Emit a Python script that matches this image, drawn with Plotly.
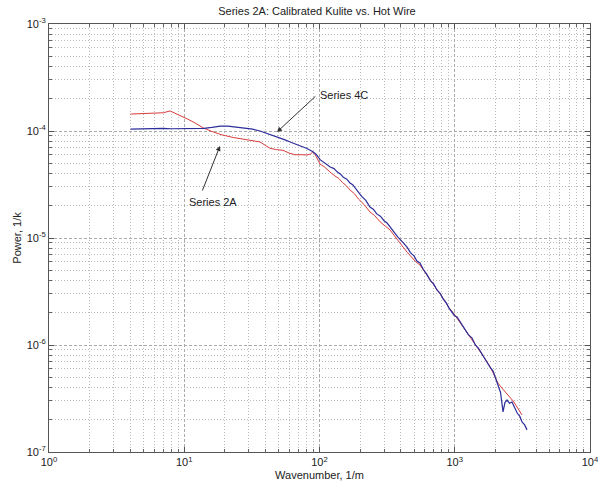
import plotly.graph_objects as go

# Series 2A (red)
x_2a = [4.0, 5, 6, 7, 7.85, 9, 10.5, 12, 13.8, 16, 19, 23, 28, 32, 36.3, 40, 43, 48, 53.7, 60,
        66, 74, 81, 86, 89.5, 93, 101, 108, 115, 122, 130, 139, 148, 158, 168, 181, 195, 214,
        236, 256, 280, 305, 332, 350, 370, 392, 416, 447, 480, 515, 553, 600, 650, 710, 778,
        840, 900, 970, 1040, 1120, 1200, 1270, 1343, 1440, 1550, 1680, 1823, 1950, 2089, 2200,
        2300, 2430, 2563, 2700, 2850, 3000, 3142]
y_2a = [1.44e-4, 1.45e-4, 1.46e-4, 1.48e-4, 1.54e-4, 1.43e-4, 1.30e-4, 1.19e-4, 1.07e-4, 9.9e-5,
        9.2e-5, 8.7e-5, 8.3e-5, 8.1e-5, 7.9e-5, 7.3e-5, 6.9e-5, 6.7e-5, 6.6e-5, 6.2e-5,
        6.0e-5, 6.0e-5, 5.97e-5, 6.1e-5, 6.4e-5, 6.0e-5, 4.9e-5, 4.65e-5, 4.3e-5, 4.05e-5,
        3.8e-5, 3.6e-5, 3.3e-5, 3.08e-5, 2.81e-5, 2.6e-5, 2.3e-5, 2.05e-5, 1.75e-5, 1.62e-5,
        1.42e-5, 1.3e-5, 1.19e-5, 1.09e-5, 1.0e-5, 9.2e-6, 8.2e-6, 7.3e-6, 6.6e-6, 6.0e-6,
        5.6e-6, 4.8e-6, 4.2e-6, 3.55e-6, 3.0e-6, 2.62e-6, 2.25e-6, 2.02e-6, 1.78e-6, 1.55e-6,
        1.38e-6, 1.22e-6, 1.13e-6, 9.9e-7, 8.6e-7, 7.4e-7, 6.3e-7, 5.3e-7, 4.4e-7, 4.05e-7,
        3.8e-7, 3.5e-7, 3.27e-7, 3.0e-7, 2.7e-7, 2.45e-7, 2.22e-7]

# Series 4C (blue)
x_4c = [4.0, 5, 6, 7, 8, 10, 12, 14, 16, 18.5, 21, 24, 28, 32, 36.3, 42, 48.5, 55, 62, 70, 80,
        89.5, 95, 101, 110, 120, 128, 135, 143, 150, 159, 168, 176, 185, 195, 205, 220, 236,
        250, 265, 282, 300, 316, 332, 355, 380, 410, 444, 470, 500, 525, 553, 585, 620, 660,
        700, 740, 778, 820, 870, 910, 950, 995, 1040, 1110, 1180, 1260, 1343, 1420, 1500, 1600,
        1700, 1823, 1920, 2000, 2089, 2180, 2275, 2350, 2434, 2540, 2650, 2780, 2900, 3030,
        3150, 3280, 3420]
y_4c = [1.04e-4, 1.05e-4, 1.05e-4, 1.06e-4, 1.05e-4, 1.05e-4, 1.05e-4, 1.06e-4, 1.08e-4,
        1.11e-4, 1.11e-4, 1.09e-4, 1.06e-4, 1.04e-4, 1.0e-4, 9.4e-5, 8.8e-5, 8.3e-5, 7.8e-5,
        7.4e-5, 6.9e-5, 6.4e-5, 6.0e-5, 5.4e-5, 4.95e-5, 4.6e-5, 4.45e-5, 4.15e-5, 3.95e-5,
        3.7e-5, 3.55e-5, 3.27e-5, 3.15e-5, 2.9e-5, 2.7e-5, 2.45e-5, 2.25e-5, 1.95e-5, 1.86e-5,
        1.68e-5, 1.6e-5, 1.45e-5, 1.38e-5, 1.27e-5, 1.12e-5, 1.02e-5, 9.2e-6, 8.2e-6, 7.3e-6,
        6.8e-6, 6.1e-6, 5.84e-6, 5.1e-6, 4.6e-6, 4.0e-6, 3.7e-6, 3.25e-6, 3.06e-6, 2.7e-6,
        2.45e-6, 2.2e-6, 2.05e-6, 1.88e-6, 1.83e-6, 1.6e-6, 1.45e-6, 1.25e-6, 1.16e-6, 1.0e-6,
        9.3e-7, 8.1e-7, 7.3e-7, 6.2e-7, 5.7e-7, 4.9e-7, 4.2e-7, 3.6e-7, 2.37e-7, 2.9e-7,
        3.06e-7, 2.85e-7, 2.93e-7, 2.6e-7, 2.3e-7, 2.15e-7, 1.9e-7, 1.8e-7, 1.61e-7]

x_tickvals = [1, 10, 100, 1000, 10000]
x_ticktext = ["10<sup>0</sup>", "10<sup>1</sup>", "10<sup>2</sup>", "10<sup>3</sup>", "10<sup>4</sup>"]
y_tickvals = [1e-7, 1e-6, 1e-5, 1e-4, 1e-3]
y_ticktext = ["10<sup>-7</sup>", "10<sup>-6</sup>", "10<sup>-5</sup>", "10<sup>-4</sup>", "10<sup>-3</sup>"]

x_minor = [m * 10 ** d for d in range(0, 4) for m in range(2, 10)]
y_minor = [m * 10.0 ** d for d in range(-7, -3) for m in range(2, 10)]

FONT = "Liberation Sans, Arial, sans-serif"

fig = go.Figure()
fig.add_trace(go.Scatter(x=x_2a, y=y_2a, mode="lines", line=dict(color="rgb(215,60,60)", width=1),
                         showlegend=False))
fig.add_trace(go.Scatter(x=x_4c, y=y_4c, mode="lines", line=dict(color="rgb(45,45,155)", width=1.2),
                         showlegend=False))

axis_common = dict(
    type="log", showline=True, linecolor="#555", linewidth=1, mirror="allticks",
    ticks="inside", ticklen=5, tickcolor="#555",
    showgrid=True, gridcolor="#aaa", griddash="3px,2px", gridwidth=1,
    zeroline=False, tickfont=dict(family=FONT, size=11, color="#222"),
    ticklabeloverflow="allow", automargin=False,
)
minor_common = dict(tickmode="array", ticks="inside", ticklen=3, tickcolor="#666",
                    showgrid=True, gridcolor="#bbb", griddash="1px,2px", gridwidth=1)

fig.update_xaxes(**axis_common, range=[0, 4], tickmode="array", tickvals=x_tickvals,
                 ticktext=x_ticktext, minor=dict(tickvals=x_minor, **minor_common),
                 title=dict(text="Wavenumber, 1/m", font=dict(family=FONT, size=11, color="#222"),
                            standoff=4))
fig.update_yaxes(**axis_common, range=[-7, -3], tickmode="array", tickvals=y_tickvals,
                 ticktext=y_ticktext, minor=dict(tickvals=y_minor, **minor_common),
                 title=dict(text="Power, 1/k", font=dict(family=FONT, size=11, color="#222"),
                            standoff=2))

fig.add_annotation(x=1.686, y=-4.009, ax=1.98, ay=-3.664, xref="x", yref="y", axref="x", ayref="y",
                   text="", showarrow=True, arrowhead=2, arrowsize=1, arrowwidth=1, arrowcolor="#333")
fig.add_annotation(x=1.99, y=-3.664, xref="x", yref="y", text="Series 4C", showarrow=False,
                   xanchor="left", yanchor="middle", font=dict(family=FONT, size=11, color="#222"))
fig.add_annotation(x=1.264, y=-4.14, ax=1.13, ay=-4.57, xref="x", yref="y", axref="x", ayref="y",
                   text="", showarrow=True, arrowhead=2, arrowsize=1, arrowwidth=1, arrowcolor="#333")
fig.add_annotation(x=1.214, y=-4.66, xref="x", yref="y", text="Series 2A", showarrow=False,
                   xanchor="center", yanchor="middle", font=dict(family=FONT, size=11, color="#222"))

fig.update_layout(
    width=598, height=492,
    margin=dict(l=49, r=8, t=24, b=40),
    paper_bgcolor="white", plot_bgcolor="white",
    title=dict(text="Series 2A: Calibrated Kulite vs. Hot Wire", x=0.53, xanchor="center",
               y=0.978, yanchor="middle", font=dict(family=FONT, size=11, color="#222")),
)

fig.write_html("out.html")
